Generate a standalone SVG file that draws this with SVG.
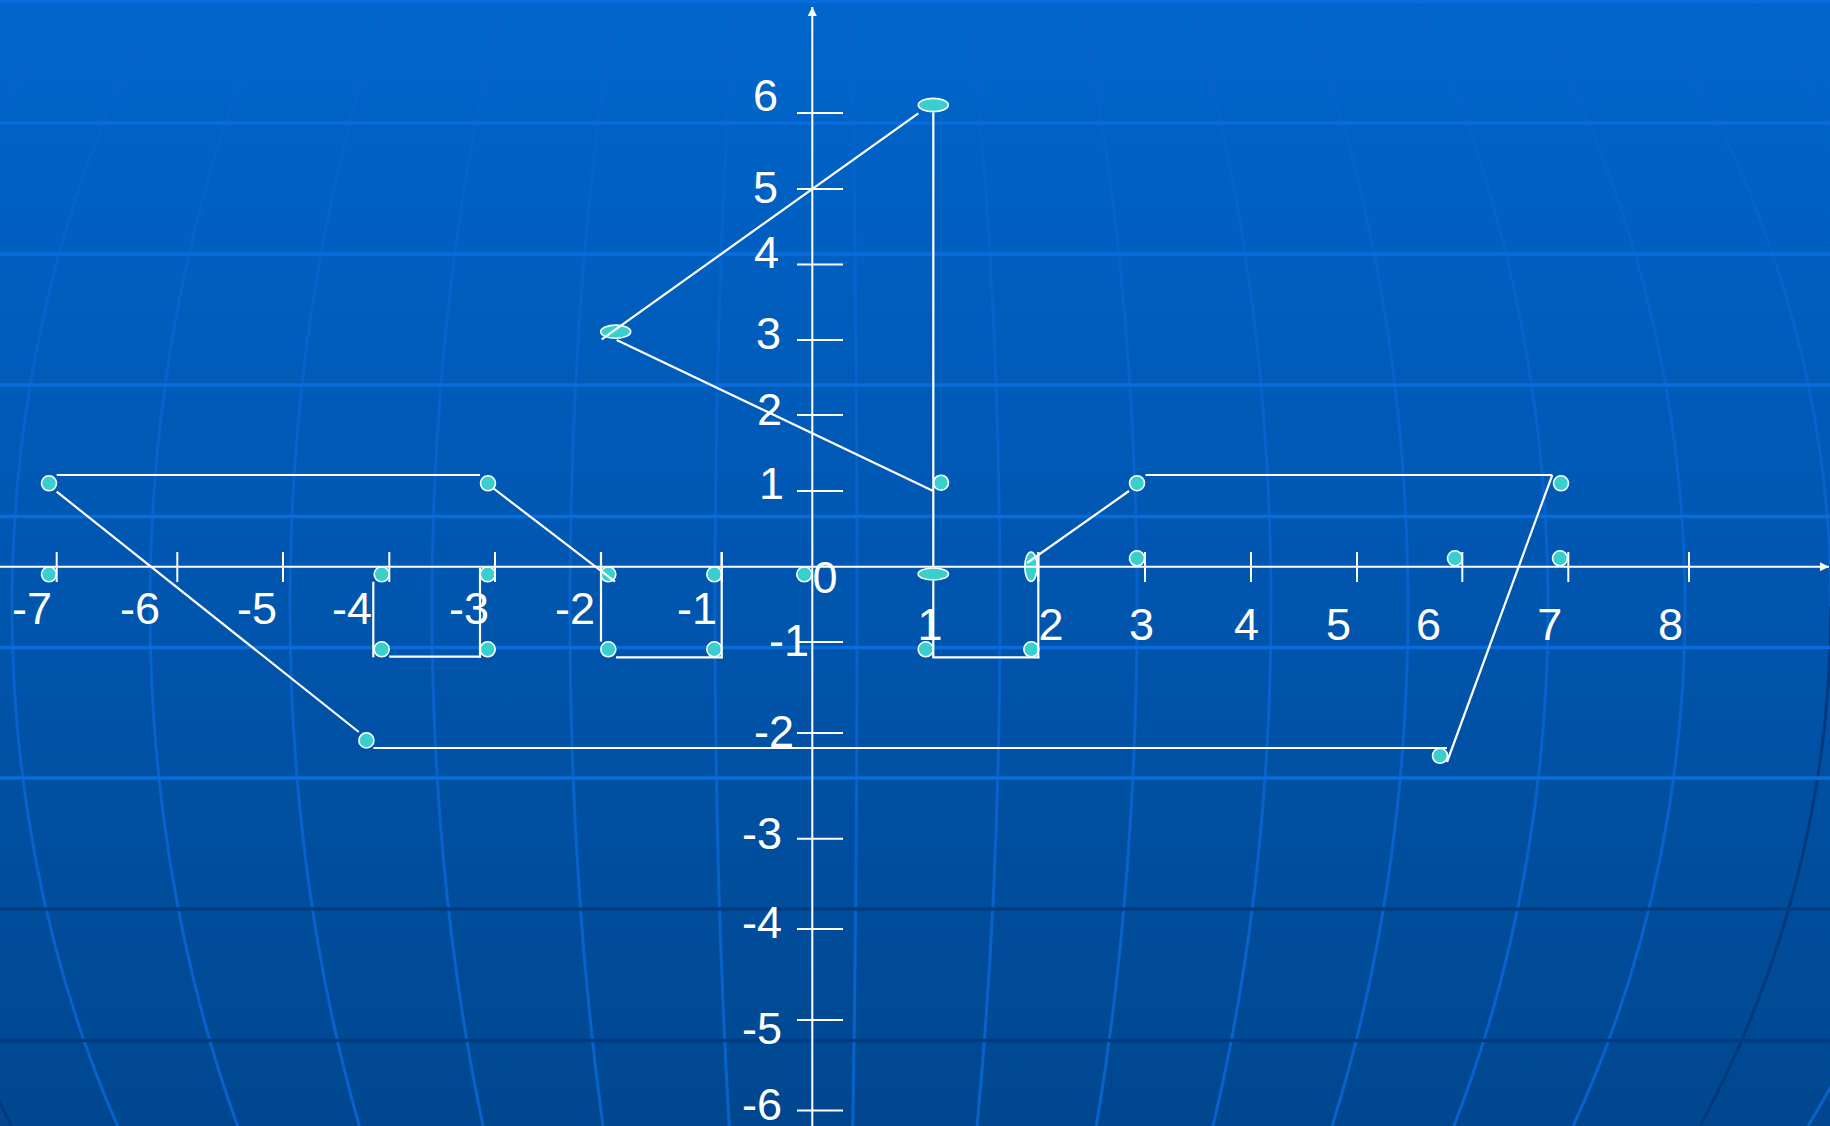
<svg xmlns="http://www.w3.org/2000/svg" width="1830" height="1126" viewBox="0 0 1830 1126">
<style>
.mer{fill:none;stroke:#0862CC;stroke-width:3}
.merd{fill:none;stroke:#003A7C;stroke-width:3}
.hl{stroke:#0A6CDA;stroke-width:3.5}
.hd{stroke:#003C80;stroke-width:3.5}
.ax{stroke:#FFFFFF;stroke-width:2;fill:none}
.tk{stroke:#FFFFFF;stroke-width:2}
.ln{stroke:#FFFFFF;stroke-width:2.2;fill:none}
.pt{fill:#3ACFCF;stroke:#FFFFFF;stroke-width:1.6}
.lbl{font-family:"Liberation Sans",Arial,sans-serif;font-size:45px;fill:#FFFFFF}
.xl{text-anchor:middle}
.yl{text-anchor:end}
</style>
<defs>
<linearGradient id="bg" x1="0" y1="0" x2="0" y2="1">
<stop offset="0" stop-color="#0066CC"/>
<stop offset="0.45" stop-color="#0058B3"/>
<stop offset="1" stop-color="#00478F"/>
</linearGradient>
<clipPath id="ctop"><rect x="0" y="0" width="1830" height="607"/></clipPath>
<clipPath id="cbot"><rect x="0" y="607" width="1830" height="519"/></clipPath>
<marker id="arr" viewBox="0 0 10 10" refX="10" refY="5" markerUnits="userSpaceOnUse" markerWidth="14" markerHeight="9" orient="auto">
<path d="M0,0 L10,5 L0,10 z" fill="#FFFFFF"/>
</marker>
</defs>

<g id="background">
<rect x="0" y="0" width="1830" height="1126" fill="url(#bg)"/>
<g id="meridians">
<path class="mer" d="M851.0 0 A33 1052.7 0 0 1 852.7 1126"/>
<path class="mer" d="M967.8 0 A176 1052.7 0 0 1 977.1 1126"/>
<path class="mer" d="M1079.7 0 A313 1052.7 0 0 1 1096.3 1126"/>
<path class="mer" d="M1189.2 0 A447 1052.7 0 0 1 1212.9 1126"/>
<path class="mer" d="M1301.1 0 A584 1052.7 0 0 1 1332.1 1126"/>
<path class="mer" d="M1415.5 0 A724 1052.7 0 0 1 1453.9 1126"/>
<path class="mer" d="M1527.5 0 A861 1052.7 0 0 1 1573.1 1126"/>
<path class="mer" clip-path="url(#ctop)" d="M1646.7 0 A1007 1052.7 0 0 1 1700.1 1126"/>
<path class="merd" clip-path="url(#cbot)" d="M1646.7 0 A1007 1052.7 0 0 1 1700.1 1126"/>
<path class="mer" d="M1748.1 0 A1131 1052.7 0 0 1 1808.0 1126"/>
<path class="mer" d="M734.9 0 A109 1052.7 0 0 0 729.2 1126"/>
<path class="mer" d="M616.5 0 A254 1052.7 0 0 0 603.0 1126"/>
<path class="mer" d="M503.7 0 A392 1052.7 0 0 0 483.0 1126"/>
<path class="mer" d="M387.7 0 A534 1052.7 0 0 0 359.4 1126"/>
<path class="mer" d="M273.3 0 A674 1052.7 0 0 0 237.6 1126"/>
<path class="mer" d="M160.6 0 A812 1052.7 0 0 0 117.5 1126"/>
<path class="mer" clip-path="url(#ctop)" d="M60.9 0 A934 1052.7 0 0 0 11.4 1126"/>
<path class="merd" clip-path="url(#cbot)" d="M60.9 0 A934 1052.7 0 0 0 11.4 1126"/>
</g>
<g id="parallels">
<line class="hl" x1="0" y1="1.5" x2="1830" y2="1.5"/>
<line class="hl" x1="0" y1="123" x2="1830" y2="123"/>
<line class="hl" x1="0" y1="254" x2="1830" y2="254"/>
<line class="hl" x1="0" y1="385" x2="1830" y2="385"/>
<line class="hl" x1="0" y1="516.5" x2="1830" y2="516.5"/>
<line class="hl" x1="0" y1="647.5" x2="1830" y2="647.5"/>
<line class="hl" x1="0" y1="778" x2="1830" y2="778"/>
<line class="hd" x1="0" y1="909" x2="1830" y2="909"/>
<line class="hd" x1="0" y1="1040.5" x2="1830" y2="1040.5"/>
</g>
</g>

<g id="nodes">
<g id="p-m7-1"><circle class="pt" cx="49" cy="483.3" r="7.5"/></g>
<g id="p-m7-0"><circle class="pt" cx="49" cy="574.3" r="7.5"/></g>
<g id="p-m4-0"><circle class="pt" cx="381.7" cy="574.3" r="7.5"/></g>
<g id="p-m3-0"><circle class="pt" cx="487.7" cy="574.3" r="7.5"/></g>
<g id="p-m4-m1"><circle class="pt" cx="381.7" cy="649.3" r="7.5"/></g>
<g id="p-m3-m1"><circle class="pt" cx="487.7" cy="649.3" r="7.5"/></g>
<g id="p-m3-1"><circle class="pt" cx="488" cy="483.3" r="7.5"/></g>
<g id="p-m2-0"><circle class="pt" cx="608.3" cy="574.3" r="7.5"/></g>
<g id="p-m1-0"><circle class="pt" cx="714.3" cy="574.3" r="7.5"/></g>
<g id="p-m2-m1"><circle class="pt" cx="608.3" cy="649.3" r="7.5"/></g>
<g id="p-m1-m1"><circle class="pt" cx="714.3" cy="649.3" r="7.5"/></g>
<g id="p-0-0"><circle class="pt" cx="804.3" cy="574.3" r="7.5"/></g>
<g id="p-1-0"><ellipse class="pt" cx="933.3" cy="574" rx="15.2" ry="6"/></g>
<g id="p-2-0"><ellipse class="pt" cx="1031" cy="566.7" rx="6.2" ry="14.7"/></g>
<g id="p-1-m1"><circle class="pt" cx="925.7" cy="649.3" r="7.5"/></g>
<g id="p-2-m1"><circle class="pt" cx="1031.3" cy="649.3" r="7.5"/></g>
<g id="p-1-1"><circle class="pt" cx="941" cy="482.7" r="7.5"/></g>
<g id="p-3-1"><circle class="pt" cx="1137" cy="483.2" r="7.5"/></g>
<g id="p-7-1"><circle class="pt" cx="1561" cy="483.3" r="7.5"/></g>
<g id="p-3-0"><circle class="pt" cx="1137" cy="558.3" r="7.5"/></g>
<g id="p-6-0"><circle class="pt" cx="1455" cy="558.3" r="7.5"/></g>
<g id="p-7-0"><circle class="pt" cx="1560" cy="558.3" r="7.5"/></g>
<g id="p-m4-m2"><circle class="pt" cx="366.4" cy="740.4" r="7.5"/></g>
<g id="p-6-m2"><circle class="pt" cx="1440" cy="755.8" r="7.5"/></g>
<g id="p-m2-3"><ellipse class="pt" cx="615.7" cy="331.7" rx="15" ry="6.6"/></g>
<g id="p-1-6"><ellipse class="pt" cx="933.3" cy="105" rx="15" ry="6.6"/></g>
</g>

<g id="connectors">
<line class="ln" x1="601.7" y1="339.3" x2="918.3" y2="113.3"/>
<line class="ln" x1="616.7" y1="340" x2="932.7" y2="490.7"/>
<line class="ln" x1="933.3" y1="112.5" x2="933.3" y2="567"/>
<line class="ln" x1="933.3" y1="581" x2="933.3" y2="657.3"/>
<line class="ln" x1="932.3" y1="657.3" x2="1039.3" y2="657.3"/>
<line class="ln" x1="1038.3" y1="552" x2="1038.3" y2="658.3"/>
<line class="ln" x1="1129" y1="491" x2="1027" y2="563"/>
<line class="ln" x1="1145.5" y1="475" x2="1552.3" y2="475"/>
<line class="ln" x1="1552.3" y1="475" x2="1447" y2="762"/>
<line class="ln" x1="373.4" y1="748" x2="1447" y2="748"/>
<line class="ln" x1="56.7" y1="491.7" x2="358.8" y2="732"/>
<line class="ln" x1="56.7" y1="475" x2="480" y2="475"/>
<line class="ln" x1="493" y1="488" x2="615" y2="581.7"/>
<line class="ln" x1="373.3" y1="581.7" x2="373.3" y2="657.3"/>
<line class="ln" x1="389.3" y1="656.7" x2="481" y2="656.7"/>
<line class="ln" x1="480" y1="568" x2="480" y2="657.7"/>
<line class="ln" x1="601" y1="552" x2="601" y2="641.7"/>
<line class="ln" x1="616" y1="657.3" x2="722.7" y2="657.3"/>
<line class="ln" x1="721.7" y1="552" x2="721.7" y2="658.3"/>
</g>

<g id="axes">
<line class="ax" x1="0" y1="566.7" x2="1829" y2="566.7" marker-end="url(#arr)"/>
<line class="ax" x1="812.3" y1="1126" x2="812.3" y2="7" marker-end="url(#arr)"/>
<g id="xticks">
<line class="tk" x1="56.7" y1="552" x2="56.7" y2="582"/>
<line class="tk" x1="177.3" y1="552" x2="177.3" y2="582"/>
<line class="tk" x1="283" y1="552" x2="283" y2="582"/>
<line class="tk" x1="389.3" y1="552" x2="389.3" y2="582"/>
<line class="tk" x1="495" y1="552" x2="495" y2="582"/>
<line class="tk" x1="601" y1="552" x2="601" y2="582"/>
<line class="tk" x1="721.7" y1="552" x2="721.7" y2="582"/>
<line class="tk" x1="1038.3" y1="552" x2="1038.3" y2="582"/>
<line class="tk" x1="1145" y1="552" x2="1145" y2="582"/>
<line class="tk" x1="1251" y1="552" x2="1251" y2="582"/>
<line class="tk" x1="1357" y1="552" x2="1357" y2="582"/>
<line class="tk" x1="1462.3" y1="552" x2="1462.3" y2="582"/>
<line class="tk" x1="1568.3" y1="552" x2="1568.3" y2="582"/>
<line class="tk" x1="1689" y1="552" x2="1689" y2="582"/>
</g>
<g id="yticks">
<line class="tk" x1="797" y1="113" x2="843" y2="113"/>
<line class="tk" x1="797" y1="189" x2="843" y2="189"/>
<line class="tk" x1="797" y1="264.5" x2="843" y2="264.5"/>
<line class="tk" x1="797" y1="340" x2="843" y2="340"/>
<line class="tk" x1="797" y1="415" x2="843" y2="415"/>
<line class="tk" x1="797" y1="491" x2="843" y2="491"/>
<line class="tk" x1="797" y1="642" x2="843" y2="642"/>
<line class="tk" x1="797" y1="733" x2="843" y2="733"/>
<line class="tk" x1="797" y1="838.8" x2="843" y2="838.8"/>
<line class="tk" x1="797" y1="929" x2="843" y2="929"/>
<line class="tk" x1="797" y1="1020" x2="843" y2="1020"/>
<line class="tk" x1="797" y1="1110.6" x2="843" y2="1110.6"/>
</g>
</g>

<g id="labels">
<text class="lbl xl" x="32" y="624">-7</text>
<text class="lbl xl" x="140" y="624">-6</text>
<text class="lbl xl" x="257" y="624">-5</text>
<text class="lbl xl" x="352" y="624">-4</text>
<text class="lbl xl" x="469" y="624">-3</text>
<text class="lbl xl" x="575" y="624">-2</text>
<text class="lbl xl" x="697" y="624">-1</text>
<text class="lbl xl" x="825" y="593">0</text>
<text class="lbl xl" x="930" y="639.5">1</text>
<text class="lbl xl" x="1051" y="639.5">2</text>
<text class="lbl xl" x="1141.4" y="639.5">3</text>
<text class="lbl xl" x="1246.4" y="639.5">4</text>
<text class="lbl xl" x="1338.6" y="639.5">5</text>
<text class="lbl xl" x="1428.5" y="639.5">6</text>
<text class="lbl xl" x="1549.8" y="639.5">7</text>
<text class="lbl xl" x="1670.6" y="639.5">8</text>
<text class="lbl yl" x="778" y="111">6</text>
<text class="lbl yl" x="778" y="202.5">5</text>
<text class="lbl yl" x="779" y="268">4</text>
<text class="lbl yl" x="781" y="349">3</text>
<text class="lbl yl" x="782" y="424.5">2</text>
<text class="lbl yl" x="784" y="499">1</text>
<text class="lbl yl" x="809" y="655.5">-1</text>
<text class="lbl yl" x="794" y="746.5">-2</text>
<text class="lbl yl" x="782" y="848.5">-3</text>
<text class="lbl yl" x="782" y="938">-4</text>
<text class="lbl yl" x="782" y="1044">-5</text>
<text class="lbl yl" x="782" y="1119.5">-6</text>
</g>
</svg>
